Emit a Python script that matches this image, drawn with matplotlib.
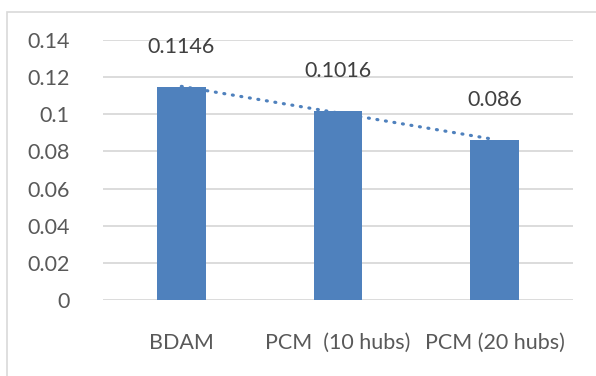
import matplotlib
matplotlib.use("Agg")
import matplotlib.pyplot as plt
import numpy as np
from matplotlib.patches import Rectangle

categories = ["BDAM", "PCM  (10 hubs)", "PCM (20 hubs)"]
values = [0.1146, 0.1016, 0.086]
yticks = [0, 0.02, 0.04, 0.06, 0.08, 0.1, 0.12, 0.14]
ytick_labels = ["0", "0.02", "0.04", "0.06", "0.08", "0.1", "0.12", "0.14"]

plt.rcParams["font.family"] = ["Lato", "DejaVu Sans"]
text_color = "#595959"
bar_color = "#4f81bd"
grid_color = "#d9d9d9"
fs = 15.5

fig = plt.figure(figsize=(5.96, 3.76), dpi=100)
fig.patch.set_facecolor("white")

# chart area outline (extends past right and bottom edges)
fig.patches.append(Rectangle((7.5 / 596, -0.1), 1.2, (376 - 11.5) / 376 + 0.1,
                             transform=fig.transFigure, fill=False,
                             edgecolor=grid_color, linewidth=1.2))

ax = fig.add_axes([103 / 596, (376 - 300) / 376, (573 - 103) / 596, (300 - 40) / 376])
x = np.arange(len(categories))
ax.bar(x, values, width=0.31, color=bar_color, zorder=3)

# linear trendline
coef = np.polyfit(x, values, 1)
trend = np.polyval(coef, x)
ax.plot(x, trend, linestyle=(0, (0.3, 2.4)), color=bar_color, linewidth=2.3,
        dash_capstyle="round", zorder=4)

for xi, v in zip(x, values):
    ax.annotate(f"{v:g}", (xi, v), xytext=(0, 40), textcoords="offset pixels",
                ha="center", va="center", fontsize=fs, color="#404040")

ax.set_xlim(-0.5, len(categories) - 0.5)
ax.set_ylim(0, 0.14)
ax.set_yticks(yticks)
ax.set_yticklabels(ytick_labels)
ax.set_xticks(x)
ax.set_xticklabels(categories)
ax.tick_params(axis="both", length=0, colors=text_color, labelsize=fs)
ax.tick_params(axis="y", pad=24)
ax.tick_params(axis="x", pad=24)
ax.yaxis.grid(True, color=grid_color, linewidth=1.3, zorder=0)
for s in ax.spines.values():
    s.set_visible(False)
ax.set_axisbelow(True)

fig.savefig("out.png", dpi=100)
